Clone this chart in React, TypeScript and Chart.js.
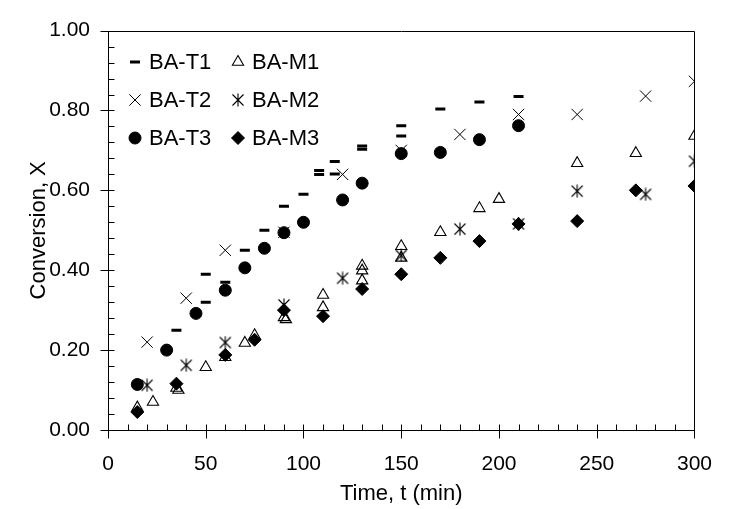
import React, { useEffect, useRef } from 'react';
import { Chart, registerables } from 'chart.js';

Chart.register(...registerables);

// ---- Data (time in min, conversion X) ----
const t1Time = [35, 50, 50, 60, 70, 80, 90, 100, 108, 108, 116, 116, 130, 130, 150, 150, 170, 190, 210];
const t1Conv = [0.25, 0.39, 0.32, 0.37, 0.45, 0.50, 0.56, 0.59, 0.65, 0.64, 0.672, 0.641, 0.711, 0.703, 0.762, 0.736, 0.804, 0.821, 0.835];

const t2Time = [20, 40, 60, 90, 120, 150, 180, 210, 240, 275, 300];
const t2Conv = [0.22, 0.33, 0.45, 0.495, 0.64, 0.70, 0.74, 0.79, 0.79, 0.836, 0.873];

const t3Time = [15, 30, 45, 60, 70, 80, 90, 100, 120, 130, 150, 170, 190, 210];
const t3Conv = [0.114, 0.20, 0.292, 0.35, 0.406, 0.455, 0.494, 0.52, 0.576, 0.618, 0.692, 0.695, 0.727, 0.762];

const m1Time = [15, 23, 35, 36, 50, 60, 70, 75, 90, 91, 110, 110, 130, 130, 130, 150, 150, 170, 190, 200, 240, 270, 300];
const m1Conv = [0.056, 0.07, 0.105, 0.10, 0.157, 0.182, 0.218, 0.237, 0.282, 0.277, 0.338, 0.307, 0.411, 0.399, 0.374, 0.46, 0.431, 0.495, 0.555, 0.578, 0.668, 0.693, 0.736];

const m2Time = [20, 40, 60, 90, 120, 150, 180, 210, 240, 275, 300];
const m2Conv = [0.112, 0.162, 0.219, 0.313, 0.38, 0.437, 0.503, 0.516, 0.598, 0.59, 0.673];

const m3Time = [15, 35, 60, 75, 90, 110, 130, 150, 170, 190, 210, 240, 270, 300];
const m3Conv = [0.045, 0.116, 0.188, 0.226, 0.30, 0.285, 0.353, 0.39, 0.431, 0.473, 0.516, 0.523, 0.60, 0.611];

const seriesLabels = ['BA-T1', 'BA-T2', 'BA-T3', 'BA-M1', 'BA-M2', 'BA-M3'];

const xMajorTicks = [0, 50, 100, 150, 200, 250, 300];
const yMajorTicks = [0, 0.2, 0.4, 0.6, 0.8, 1.0];
const xMinorStep = 10;
const yMinorStep = 0.04;

const FONT = "'Liberation Sans', Arial, Helvetica, sans-serif";

function pts(t: number[], v: number[]) {
  return t.map((x, i) => ({ x, y: v[i] }));
}

function makeAsterisk(): HTMLCanvasElement {
  const c = document.createElement('canvas');
  c.width = 14;
  c.height = 14;
  const g = c.getContext('2d')!;
  g.strokeStyle = '#000';
  g.lineWidth = 1.1;
  const m = 7;
  g.beginPath();
  g.moveTo(m, m - 6.5);
  g.lineTo(m, m + 6.5);
  g.moveTo(m - 5.5, m - 5.5);
  g.lineTo(m + 5.5, m + 5.5);
  g.moveTo(m + 5.5, m - 5.5);
  g.lineTo(m - 5.5, m + 5.5);
  g.stroke();
  return c;
}

const axesPlugin = {
  id: 'excelAxes',
  beforeDatasetsDraw(chart: any) {
    const { ctx, chartArea: a, scales } = chart;
    const xs = scales.x;
    const ys = scales.y;
    ctx.save();
    ctx.strokeStyle = '#000';
    ctx.lineWidth = 1;
    const L = Math.round(a.left) + 0.5;
    const R = Math.round(a.right) + 0.5;
    const T = Math.round(a.top) + 0.5;
    const B = Math.round(a.bottom) + 0.5;
    ctx.beginPath();
    ctx.rect(L, T, R - L, B - T);
    for (let v = xs.min; v <= xs.max + 1e-9; v += xMinorStep) {
      const px = Math.round(xs.getPixelForValue(v)) + 0.5;
      const major = xMajorTicks.some((m) => Math.abs(m - v) < 1e-6);
      ctx.moveTo(px, B + (major ? 8 : 0));
      ctx.lineTo(px, B - 6);
    }
    for (let k = 0; k * yMinorStep <= ys.max + 1e-9; k++) {
      const v = k * yMinorStep;
      const py = Math.round(ys.getPixelForValue(v)) + 0.5;
      const major = yMajorTicks.some((m) => Math.abs(m - v) < 1e-6);
      ctx.moveTo(L - (major ? 8 : 0), py);
      ctx.lineTo(L + 6, py);
    }
    ctx.stroke();
    ctx.restore();
  },
};

const legendRows = [[0, 3], [1, 4], [2, 5]];

const legendPlugin = {
  id: 'gridLegend',
  afterDraw(chart: any) {
    const { ctx } = chart;
    const colMarkerX = [135, 238];
    const rowY = [62, 100, 138];
    ctx.save();
    ctx.font = `22px ${FONT}`;
    ctx.fillStyle = '#000';
    ctx.textBaseline = 'middle';
    ctx.textAlign = 'left';
    legendRows.forEach((row, r) => {
      row.forEach((di, c) => {
        const meta = chart.getDatasetMeta(di);
        const el = meta.data[0];
        if (el) {
          const ox = el.x, oy = el.y;
          el.x = colMarkerX[c];
          el.y = rowY[r];
          el.draw(ctx);
          el.x = ox;
          el.y = oy;
        }
        ctx.fillStyle = '#000';
        ctx.fillText(chart.data.datasets[di].label, colMarkerX[c] + 14, rowY[r] + 1);
      });
    });
    ctx.restore();
  },
};

export default function App() {
  const ref = useRef<HTMLCanvasElement | null>(null);
  useEffect(() => {
    const canvas = ref.current;
    if (!canvas) return;
    const star = makeAsterisk();
    const black = '#000';
    const chart = new Chart(canvas, {
      type: 'scatter',
      data: {
        datasets: [
          { label: seriesLabels[0], data: pts(t1Time, t1Conv), pointStyle: 'line', pointRadius: 5, pointBorderWidth: 3, pointBorderColor: black, pointBackgroundColor: black },
          { label: seriesLabels[1], data: pts(t2Time, t2Conv), pointStyle: 'crossRot', pointRadius: 8, pointBorderWidth: 1, pointBorderColor: black, pointBackgroundColor: black },
          { label: seriesLabels[2], data: pts(t3Time, t3Conv), pointStyle: 'circle', pointRadius: 6, pointBorderWidth: 1, pointBorderColor: black, pointBackgroundColor: black },
          { label: seriesLabels[3], data: pts(m1Time, m1Conv), pointStyle: 'triangle', pointRadius: 6.5, pointBorderWidth: 1.1, pointBorderColor: black, pointBackgroundColor: 'rgba(0,0,0,0)' },
          { label: seriesLabels[4], data: pts(m2Time, m2Conv), pointStyle: star as any, pointRadius: 7, pointBorderWidth: 1, pointBorderColor: black, pointBackgroundColor: black },
          { label: seriesLabels[5], data: pts(m3Time, m3Conv), pointStyle: 'rectRot', pointRadius: 6.5, pointBorderWidth: 1, pointBorderColor: black, pointBackgroundColor: black },
        ] as any,
      },
      options: {
        animation: false,
        responsive: false,
        events: [],
        layout: { padding: { top: 25, right: 23, left: 0, bottom: 0 } },
        plugins: { legend: { display: false }, tooltip: { enabled: false } },
        scales: {
          x: {
            type: 'linear',
            min: 0,
            max: 300,
            afterBuildTicks: (s: any) => {
              s.ticks = xMajorTicks.map((v) => ({ value: v }));
            },
            afterFit: (s: any) => {
              s.height = 79;
            },
            ticks: { color: black, font: { family: FONT, size: 21 }, padding: 22, maxRotation: 0, autoSkip: false, callback: (v: any) => String(v) },
            grid: { display: false, drawTicks: false },
            border: { display: false },
            title: { display: true, text: 'Time, t (min)', color: black, font: { family: FONT, size: 22 }, padding: { top: 0, bottom: 2 } },
          },
          y: {
            type: 'linear',
            min: 0,
            max: 1,
            afterBuildTicks: (s: any) => {
              s.ticks = yMajorTicks.map((v) => ({ value: v }));
            },
            afterFit: (s: any) => {
              s.width = 108;
            },
            ticks: { color: black, font: { family: FONT, size: 21 }, padding: 18, callback: (v: any) => Number(v).toFixed(2) },
            grid: { display: false, drawTicks: false },
            border: { display: false },
            title: { display: true, text: 'Conversion, X', color: black, font: { family: FONT, size: 22 }, padding: { top: 26, bottom: 0 } },
          },
        },
      } as any,
      plugins: [axesPlugin, legendPlugin],
    });
    return () => chart.destroy();
  }, []);
  return (
    <div style={{ position: 'fixed', left: 0, top: 0, width: 734, height: 509, background: '#fff' }}>
      <canvas ref={ref} width={734} height={509} style={{ display: 'block' }} />
    </div>
  );
}
